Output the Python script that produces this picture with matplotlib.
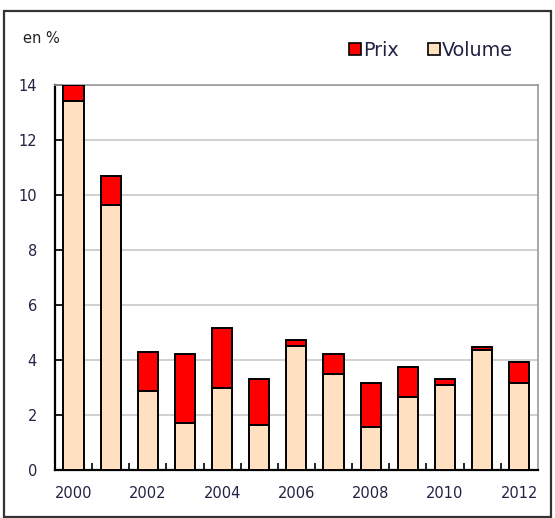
import numpy as np
import matplotlib.pyplot as plt
from matplotlib.patches import Rectangle, Patch

# data (en %)
years = [2000, 2001, 2002, 2003, 2004, 2005, 2006, 2007, 2008, 2009, 2010, 2011, 2012]
volume = [13.43, 9.64, 2.86, 1.69, 2.99, 1.62, 4.51, 3.49, 1.56, 2.65, 3.09, 4.37, 3.15]
total = [14.0, 10.69, 4.30, 4.23, 5.17, 3.29, 4.73, 4.23, 3.15, 3.73, 3.29, 4.45, 3.94]
prix = [t - v for t, v in zip(total, volume)]
tick_years = [2000, 2002, 2004, 2006, 2008, 2010, 2012]

plt.rcParams['font.family'] = ['DejaVu Sans']

fig = plt.figure(figsize=(5.55, 5.18), dpi=100)
ax = fig.add_axes([0.099, 0.093, 0.870, 0.743])

x = np.arange(len(years))
ax.bar(x, volume, width=0.54, color='#FFE0C0', edgecolor='black', linewidth=1.4, zorder=3)
ax.bar(x, prix, width=0.54, bottom=volume, color='#FF0000', edgecolor='black', linewidth=1.4, zorder=3)

ax.set_ylim(0, 14)
ax.set_xlim(-0.5, len(years) - 0.5)
ax.set_yticks(range(0, 15, 2))
ax.yaxis.grid(True, color='#C8C8C8', linewidth=1.2, zorder=0)

ax.set_xticks([years.index(y) for y in tick_years])
ax.set_xticklabels([str(y) for y in tick_years])
ax.set_xticks(np.arange(0.5, len(years) - 0.5, 1), minor=True)
ax.tick_params(axis='x', which='major', length=0, pad=12, labelsize=10.5, labelcolor='#222244')
ax.tick_params(axis='x', which='minor', direction='in', length=5, width=1.2)
ax.tick_params(axis='y', direction='in', length=6, width=1.2, labelsize=10.5, labelcolor='#222244', pad=13)

for side in ['top', 'right']:
    ax.spines[side].set_color('#999999')
    ax.spines[side].set_linewidth(1.2)
for side in ['left', 'bottom']:
    ax.spines[side].set_color('black')
    ax.spines[side].set_linewidth(1.6)

fig.text(0.042, 0.917, 'en %', fontsize=10.5, color='#222222')

handles = [Patch(facecolor='#FF0000', edgecolor='black', linewidth=1.2, label='Prix'),
           Patch(facecolor='#FFE0C0', edgecolor='black', linewidth=1.2, label='Volume')]
fig.legend(handles=handles, loc='center left', bbox_to_anchor=(0.611, 0.9025), ncol=2,
           frameon=False, fontsize=13.8, handlelength=0.65, handleheight=0.6,
           handletextpad=0.1, columnspacing=1.5, borderpad=0, labelcolor='#222244')

fig.patches.append(Rectangle((0.007, 0.002), 0.985, 0.976, transform=fig.transFigure,
                             fill=False, edgecolor='#333333', linewidth=1.6))

fig.savefig('out.png', dpi=100)
